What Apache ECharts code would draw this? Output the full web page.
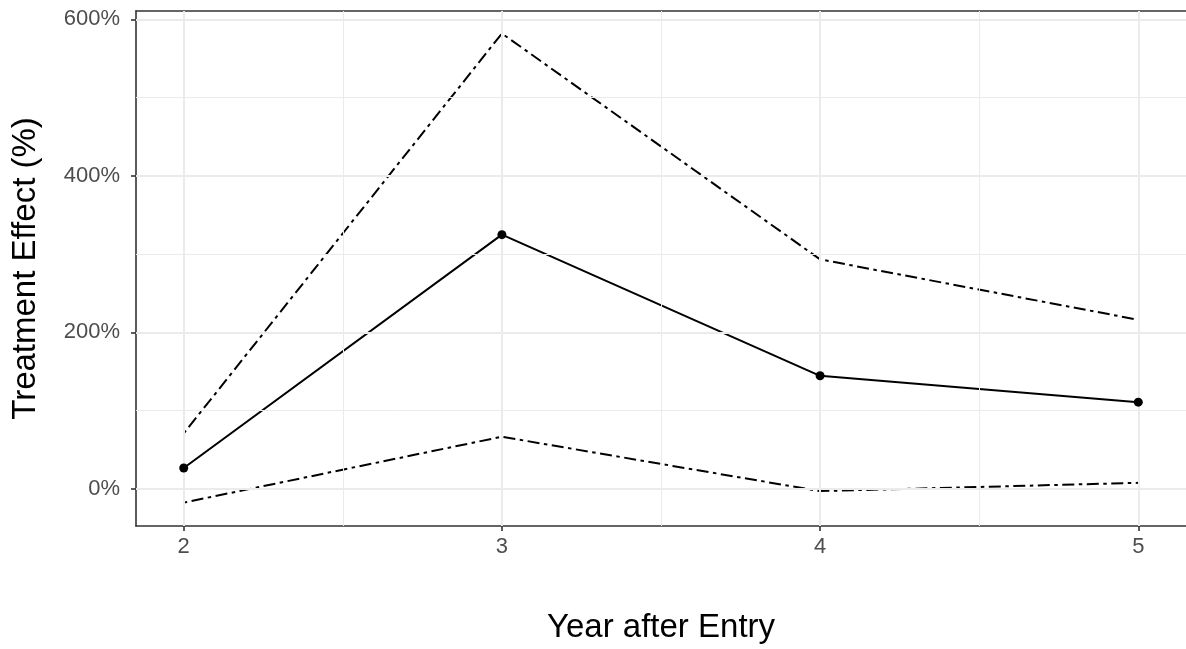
<!DOCTYPE html>
<html>
<head>
<meta charset="utf-8">
<script src="https://cdn.jsdelivr.net/npm/echarts@6/dist/echarts.min.js"></script>
<style>
html,body{margin:0;padding:0;background:#fff;overflow:hidden;}
#c{width:1186px;height:649px;}
</style>
</head>
<body>
<div id="c"></div>
<script>
const years = [2, 3, 4, 5];
const estimate = [26.5, 324.8, 144.4, 110.7];
const upper = [70.8, 582, 293.2, 216];
const lower = [-17.7, 66.5, -3, 7.6];
const xTicks = [2, 3, 4, 5];
const xMinor = [2.5, 3.5, 4.5];
const yTicks = [0, 200, 400, 600];
const yMinor = [100, 300, 500];

const pairs = (xs, ys) => xs.map((x, i) => [x, ys[i]]);
const FONT = 'Liberation Sans, Arial, sans-serif';
const GRID = '#EBEBEB';
const AXIS = '#333333';
const dotdash = [3.5, 4.5, 12, 4.5];

const gridLines = [
  ...yTicks.map(v => ({ yAxis: v, lineStyle: { width: 2 } })),
  ...yMinor.map(v => ({ yAxis: v, lineStyle: { width: 1 } })),
  ...xTicks.map(v => ({ xAxis: v, lineStyle: { width: 2 } })),
  ...xMinor.map(v => ({ xAxis: v, lineStyle: { width: 1 } }))
];

const chart = echarts.init(document.getElementById('c'), null, { renderer: 'canvas' });
chart.setOption({
  animation: false,
  backgroundColor: '#ffffff',
  grid: { left: 136, top: 11, width: 1052, height: 521, show: false },
  xAxis: [
    {
      type: 'value', min: 1.85, max: 5.15, position: 'bottom',
      name: 'Year after Entry', nameLocation: 'middle', nameGap: 85,
      nameTextStyle: { fontFamily: FONT, fontSize: 33, color: '#000' },
      axisLine: { show: true, onZero: false, lineStyle: { color: AXIS, width: 1.6 } },
      axisTick: { show: true, length: 5, customValues: xTicks, lineStyle: { color: AXIS, width: 1.6 } },
      axisLabel: { customValues: xTicks, margin: 10, fontFamily: FONT, fontSize: 22, color: '#4D4D4D' },
      splitLine: { show: false }
    },
    {
      type: 'value', min: 1.85, max: 5.15, position: 'top',
      axisLine: { show: true, onZero: false, lineStyle: { color: AXIS, width: 1.6 } },
      axisTick: { show: false }, axisLabel: { show: false }, splitLine: { show: false }
    }
  ],
  yAxis: {
    type: 'value', min: -47.6, max: 610.7, position: 'left',
    name: 'Treatment Effect (%)', nameLocation: 'middle', nameGap: 94,
    nameTextStyle: { fontFamily: FONT, fontSize: 33, color: '#000' },
    axisLine: { show: true, onZero: false, lineStyle: { color: AXIS, width: 1.6 } },
    axisTick: { show: true, length: 5, customValues: yTicks, lineStyle: { color: AXIS, width: 1.6 } },
    axisLabel: { customValues: yTicks, margin: 16, fontFamily: FONT, fontSize: 22, color: '#4D4D4D',
      formatter: v => v + '%' },
    splitLine: { show: false }
  },
  series: [
    {
      type: 'line', data: [], z: 0, silent: true,
      markLine: {
        silent: true, symbol: 'none', label: { show: false },
        lineStyle: { color: GRID, type: 'solid' },
        emphasis: { disabled: true },
        data: gridLines
      }
    },
    {
      name: 'upper', type: 'line', data: pairs(years, upper), showSymbol: false,
      lineStyle: { color: '#000', width: 2, type: dotdash }, z: 3
    },
    {
      name: 'lower', type: 'line', data: pairs(years, lower), showSymbol: false,
      lineStyle: { color: '#000', width: 2, type: dotdash }, z: 3
    },
    {
      name: 'estimate', type: 'line', data: pairs(years, estimate), showSymbol: false,
      lineStyle: { color: '#000', width: 2 }, z: 4
    },
    {
      name: 'estimate points', type: 'scatter', data: pairs(years, estimate),
      symbol: 'circle', symbolSize: 9,
      itemStyle: { color: '#000', borderWidth: 0, opacity: 1 }, z: 5
    }
  ]
});
</script>
</body>
</html>
